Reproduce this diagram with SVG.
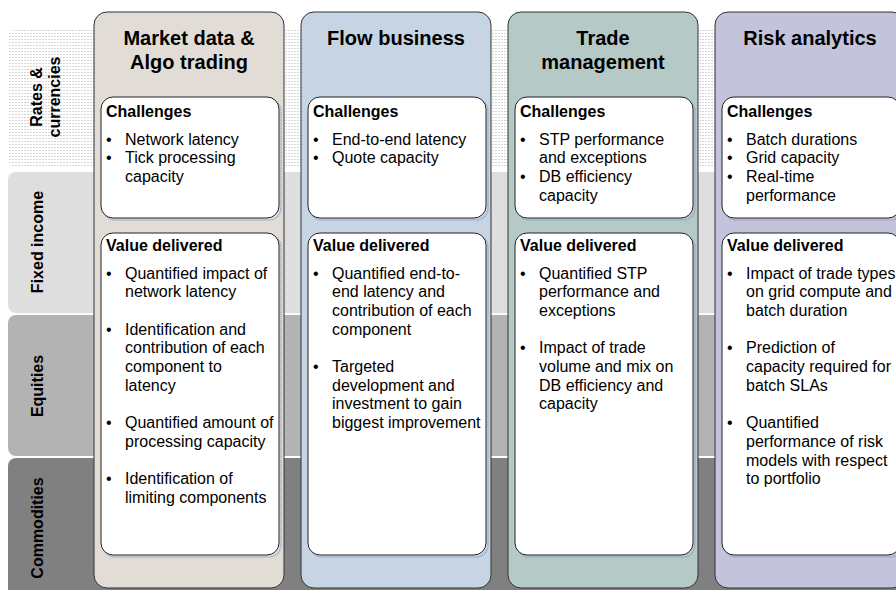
<svg xmlns="http://www.w3.org/2000/svg" width="896" height="590" viewBox="0 0 896 590">
<defs>
<pattern id="hatch" width="3" height="3" patternUnits="userSpaceOnUse">
<rect width="3" height="3" fill="#ffffff"/>
<rect x="0" y="0" width="2" height="1" fill="#d6d6d6"/>
</pattern>
<style>
text{font-family:"Liberation Sans",Arial,sans-serif;fill:#000}
.lbl{font-size:16px;font-weight:bold;text-anchor:middle}
.hdr{font-size:20px;font-weight:bold;text-anchor:middle}
.sub{font-size:16px;font-weight:bold}
.body{font-size:16px}
.col{stroke:#333333;stroke-width:1}
.box{fill:#ffffff;stroke:#222222;stroke-width:1}
.shd{fill:none;stroke:#8e9cb4;stroke-width:1.5;stroke-dasharray:1 1}
</style>
</defs>
<rect width="896" height="590" fill="#ffffff"/>
<g id="bands">
<g id="band-rates">
<rect x="8" y="30" width="900" height="138" rx="8" fill="url(#hatch)"/>
<text class="lbl" transform="translate(42,97) rotate(-90)">Rates &amp;</text>
<text class="lbl" transform="translate(60,97) rotate(-90)">currencies</text>
</g>
<g id="band-fixed">
<rect x="8" y="172" width="900" height="141" rx="8" fill="#dedede"/>
<text class="lbl" transform="translate(43,242) rotate(-90)">Fixed income</text>
</g>
<g id="band-equities">
<rect x="8" y="315" width="900" height="141" rx="8" fill="#b3b3b3"/>
<text class="lbl" transform="translate(43,386) rotate(-90)">Equities</text>
</g>
<g id="band-commodities">
<rect x="8" y="458" width="900" height="150" rx="8" fill="#808080"/>
<text class="lbl" transform="translate(43,528) rotate(-90)">Commodities</text>
</g>
</g>
<g id="connectors"/>
<g id="col-market">
<rect class="col" x="94" y="12" width="190" height="576" rx="13" fill="#e1ddd6"/>
<text class="hdr" x="189" y="45">Market data &amp;</text>
<text class="hdr" x="189" y="69">Algo trading</text>
<rect class="shd" x="103" y="99" width="178" height="121" rx="12"/>
<rect class="box" x="101" y="97" width="178" height="121" rx="12"/>
<text class="sub" x="106" y="117">Challenges</text>
<text class="body"><tspan x="106" y="144.5">•</tspan><tspan x="125" y="144.5">Network latency</tspan><tspan x="106" y="163.2">•</tspan><tspan x="125" y="163.2">Tick processing</tspan><tspan x="125" y="181.9">capacity</tspan></text>
<rect class="shd" x="103" y="235" width="178" height="322" rx="12"/>
<rect class="box" x="101" y="233" width="178" height="322" rx="12"/>
<text class="sub" x="106" y="251">Value delivered</text>
<text class="body"><tspan x="106" y="278.5">•</tspan><tspan x="125" y="278.5">Quantified impact of</tspan><tspan x="125" y="297.2">network latency</tspan><tspan x="106" y="334.6">•</tspan><tspan x="125" y="334.6">Identification and</tspan><tspan x="125" y="353.3">contribution of each</tspan><tspan x="125" y="372">component to</tspan><tspan x="125" y="390.7">latency</tspan><tspan x="106" y="428.1">•</tspan><tspan x="125" y="428.1">Quantified amount of</tspan><tspan x="125" y="446.8">processing capacity</tspan><tspan x="106" y="484.2">•</tspan><tspan x="125" y="484.2">Identification of</tspan><tspan x="125" y="502.9">limiting components</tspan></text>
</g>
<g id="col-flow">
<rect class="col" x="301" y="12" width="190" height="576" rx="13" fill="#c6d4e3"/>
<text class="hdr" x="396" y="45">Flow business</text>
<rect class="shd" x="310" y="99" width="178" height="121" rx="12"/>
<rect class="box" x="308" y="97" width="178" height="121" rx="12"/>
<text class="sub" x="313" y="117">Challenges</text>
<text class="body"><tspan x="313" y="144.5">•</tspan><tspan x="332" y="144.5">End-to-end latency</tspan><tspan x="313" y="163.2">•</tspan><tspan x="332" y="163.2">Quote capacity</tspan></text>
<rect class="shd" x="310" y="235" width="178" height="322" rx="12"/>
<rect class="box" x="308" y="233" width="178" height="322" rx="12"/>
<text class="sub" x="313" y="251">Value delivered</text>
<text class="body"><tspan x="313" y="278.5">•</tspan><tspan x="332" y="278.5">Quantified end-to-</tspan><tspan x="332" y="297.2">end latency and</tspan><tspan x="332" y="315.9">contribution of each</tspan><tspan x="332" y="334.6">component</tspan><tspan x="313" y="372">•</tspan><tspan x="332" y="372">Targeted</tspan><tspan x="332" y="390.7">development and</tspan><tspan x="332" y="409.4">investment to gain</tspan><tspan x="332" y="428.1">biggest improvement</tspan></text>
</g>
<g id="col-trade">
<rect class="col" x="508" y="12" width="190" height="576" rx="13" fill="#b5cac7"/>
<text class="hdr" x="603" y="45">Trade</text>
<text class="hdr" x="603" y="69">management</text>
<rect class="shd" x="517" y="99" width="178" height="121" rx="12"/>
<rect class="box" x="515" y="97" width="178" height="121" rx="12"/>
<text class="sub" x="520" y="117">Challenges</text>
<text class="body"><tspan x="520" y="144.5">•</tspan><tspan x="539" y="144.5">STP performance</tspan><tspan x="539" y="163.2">and exceptions</tspan><tspan x="520" y="181.9">•</tspan><tspan x="539" y="181.9">DB efficiency</tspan><tspan x="539" y="200.6">capacity</tspan></text>
<rect class="shd" x="517" y="235" width="178" height="322" rx="12"/>
<rect class="box" x="515" y="233" width="178" height="322" rx="12"/>
<text class="sub" x="520" y="251">Value delivered</text>
<text class="body"><tspan x="520" y="278.5">•</tspan><tspan x="539" y="278.5">Quantified STP</tspan><tspan x="539" y="297.2">performance and</tspan><tspan x="539" y="315.9">exceptions</tspan><tspan x="520" y="353.3">•</tspan><tspan x="539" y="353.3">Impact of trade</tspan><tspan x="539" y="372">volume and mix on</tspan><tspan x="539" y="390.7">DB efficiency and</tspan><tspan x="539" y="409.4">capacity</tspan></text>
</g>
<g id="col-risk">
<rect class="col" x="715" y="12" width="190" height="576" rx="13" fill="#c3c3db"/>
<text class="hdr" x="810" y="45">Risk analytics</text>
<rect class="shd" x="724" y="99" width="178" height="121" rx="12"/>
<rect class="box" x="722" y="97" width="178" height="121" rx="12"/>
<text class="sub" x="727" y="117">Challenges</text>
<text class="body"><tspan x="727" y="144.5">•</tspan><tspan x="746" y="144.5">Batch durations</tspan><tspan x="727" y="163.2">•</tspan><tspan x="746" y="163.2">Grid capacity</tspan><tspan x="727" y="181.9">•</tspan><tspan x="746" y="181.9">Real-time</tspan><tspan x="746" y="200.6">performance</tspan></text>
<rect class="shd" x="724" y="235" width="178" height="322" rx="12"/>
<rect class="box" x="722" y="233" width="178" height="322" rx="12"/>
<text class="sub" x="727" y="251">Value delivered</text>
<text class="body"><tspan x="727" y="278.5">•</tspan><tspan x="746" y="278.5">Impact of trade types</tspan><tspan x="746" y="297.2">on grid compute and</tspan><tspan x="746" y="315.9">batch duration</tspan><tspan x="727" y="353.3">•</tspan><tspan x="746" y="353.3">Prediction of</tspan><tspan x="746" y="372">capacity required for</tspan><tspan x="746" y="390.7">batch SLAs</tspan><tspan x="727" y="428.1">•</tspan><tspan x="746" y="428.1">Quantified</tspan><tspan x="746" y="446.8">performance of risk</tspan><tspan x="746" y="465.5">models with respect</tspan><tspan x="746" y="484.2">to portfolio</tspan></text>
</g>
</svg>
